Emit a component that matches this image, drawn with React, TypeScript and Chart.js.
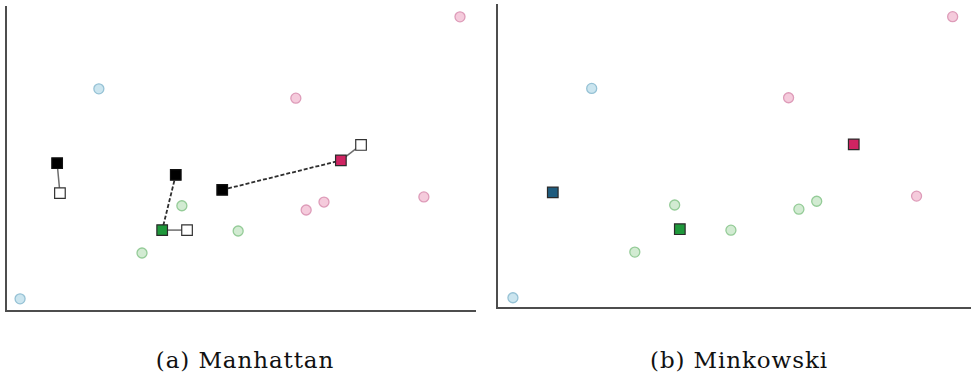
import React, { useEffect, useRef } from "react";
import { Chart, registerables } from "chart.js";

Chart.register(...registerables);

// Sample points shared by both panels
const sampleX = [1.98, 0.3, 9.68, 6.18, 8.91, 6.4, 6.78, 3.75, 2.9, 4.95];
const sampleY = [4.75, 0.26, 6.29, 4.55, 2.44, 2.16, 2.33, 2.25, 1.24, 1.71];

// Cluster assignment per sample: 0 = blue, 1 = green, 2 = red
const manhattanLabels = [0, 0, 2, 2, 2, 2, 2, 1, 1, 1];
const minkowskiLabels = [0, 0, 2, 2, 2, 1, 1, 1, 1, 1];

// Centroid moves (blue, green, red): start -> intermediate -> final
const startX = [1.09, 3.62, 4.61];
const startY = [3.16, 2.91, 2.59];
const stepX: (number | null)[] = [null, 3.33, 7.14];
const stepY: (number | null)[] = [null, 1.73, 3.22];
const finalX = [1.15, 3.86, 7.57];
const finalY = [2.52, 1.73, 3.55];

const captions = ["(a) Manhattan", "(b) Minkowski"];

const CLUSTER_FILL = ["#cbe5ef", "#d2ebd2", "#f5cbdc"];
const CLUSTER_EDGE = ["#96c2d5", "#95cc98", "#de9cb9"];
const CENTROID_FILL = ["#1f5c7e", "#1f983b", "#cf2462"];
const AXIS_COLOR = "#4d4d4d";

const pts = (xs: number[], ys: number[]) => xs.map((x, i) => ({ x, y: ys[i] }));

function clusterCircles(labels: number[]) {
  return [0, 1, 2].map((c) => ({
    label: `cluster ${c}`,
    data: pts(sampleX, sampleY).filter((_, i) => labels[i] === c),
    pointStyle: "circle",
    pointRadius: 5,
    pointBackgroundColor: CLUSTER_FILL[c],
    pointBorderColor: CLUSTER_EDGE[c],
    pointBorderWidth: 1.3,
    showLine: false,
    order: 2,
  }));
}

function segment(x0: number, y0: number, x1: number, y1: number, dashed: boolean) {
  return {
    label: "path",
    data: [
      { x: x0, y: y0 },
      { x: x1, y: y1 },
    ],
    showLine: true,
    pointRadius: 0,
    borderColor: dashed ? "#2e2e2e" : "#6e6e6e",
    borderWidth: dashed ? 1.8 : 1.5,
    borderDash: dashed ? [4, 2] : [],
    order: 3,
  };
}

function squares(data: { x: number; y: number }[], fill: string[], edge: string) {
  return {
    label: "centroids",
    data,
    pointStyle: "rect",
    pointRadius: 7.5,
    pointBackgroundColor: fill,
    pointBorderColor: edge,
    pointBorderWidth: 1.2,
    showLine: false,
    order: 1,
  };
}

function manhattanDatasets() {
  const sets: any[] = [...clusterCircles(manhattanLabels)];
  for (let i = 0; i < 3; i++) {
    const sx = stepX[i];
    const sy = stepY[i];
    if (sx !== null && sy !== null) {
      sets.push(segment(startX[i], startY[i], sx, sy, true));
      sets.push(segment(sx, sy, finalX[i], finalY[i], false));
    } else {
      sets.push(segment(startX[i], startY[i], finalX[i], finalY[i], false));
    }
  }
  sets.push(squares(pts(startX, startY), ["#000", "#000", "#000"], "#111"));
  const stepPts: { x: number; y: number }[] = [];
  const stepFill: string[] = [];
  stepX.forEach((x, i) => {
    const y = stepY[i];
    if (x !== null && y !== null) {
      stepPts.push({ x, y });
      stepFill.push(CENTROID_FILL[i]);
    }
  });
  sets.push(squares(stepPts, stepFill, "#2a2a2a"));
  sets.push(squares(pts(finalX, finalY), ["#fff", "#fff", "#fff"], "#333"));
  return sets;
}

function minkowskiDatasets() {
  return [
    ...clusterCircles(minkowskiLabels),
    squares(pts(finalX, finalY), CENTROID_FILL, "#2a2a2a"),
  ];
}

type PanelProps = {
  datasets: any[];
  width: number;
  height: number;
  left: number;
  xRange: [number, number];
  yRange: [number, number];
  padding: { left: number; right: number; top: number; bottom: number };
};

function Panel({ datasets, width, height, left, xRange, yRange, padding }: PanelProps) {
  const ref = useRef<HTMLCanvasElement>(null);
  useEffect(() => {
    const axis = (min: number, max: number) => ({
      type: "linear" as const,
      min,
      max,
      grid: { display: false, drawTicks: false },
      ticks: { display: false },
      border: { display: true, color: AXIS_COLOR, width: 2 },
    });
    const chart = new Chart(ref.current!, {
      type: "scatter",
      data: { datasets },
      options: {
        animation: false,
        responsive: false,
        devicePixelRatio: 1,
        events: [],
        layout: { padding, autoPadding: false },
        plugins: { legend: { display: false }, tooltip: { enabled: false } },
        scales: {
          x: axis(xRange[0], xRange[1]),
          y: axis(yRange[0], yRange[1]),
        },
        elements: { point: { hoverRadius: 0 } },
      } as any,
    });
    return () => chart.destroy();
  }, []);
  return (
    <canvas
      ref={ref}
      width={width}
      height={height}
      style={{ position: "absolute", left, top: 0, width, height }}
    />
  );
}

const captionStyle = (center: number): React.CSSProperties => ({
  position: "absolute",
  left: center - 150,
  width: 300,
  top: 348,
  textAlign: "center",
  fontFamily: "'DejaVu Serif', serif",
  fontSize: 23,
  lineHeight: "24px",
  letterSpacing: "0.9px",
  color: "#111",
  whiteSpace: "nowrap",
});

export default function App() {
  return (
    <div
      style={{
        position: "absolute",
        left: 0,
        top: 0,
        width: 973,
        height: 378,
        background: "#fff",
        overflow: "hidden",
      }}
    >
      <Panel
        datasets={manhattanDatasets()}
        width={486}
        height={320}
        left={0}
        xRange={[0, 10]}
        yRange={[0, 6.5]}
        padding={{ left: 6, right: 11, top: 7, bottom: 9 }}
      />
      <Panel
        datasets={minkowskiDatasets()}
        width={487}
        height={320}
        left={486}
        xRange={[-0.04, 10.05]}
        yRange={[0.04, 6.54]}
        padding={{ left: 11, right: 3, top: 5, bottom: 12 }}
      />
      <div style={captionStyle(245)}>{captions[0]}</div>
      <div style={captionStyle(739)}>{captions[1]}</div>
    </div>
  );
}
